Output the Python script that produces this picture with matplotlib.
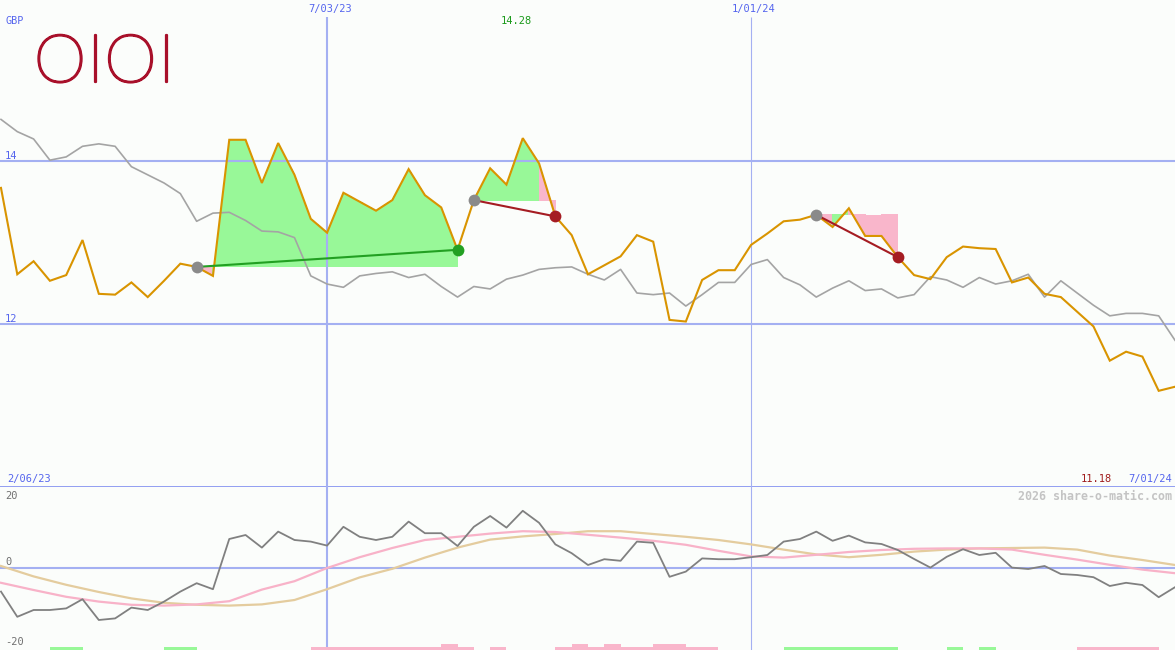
import matplotlib
matplotlib.use("Agg")
import matplotlib.pyplot as plt
import matplotlib.patheffects as pe

# ---------------- data ----------------
price = [13.67, 12.61, 12.77, 12.53, 12.60, 13.03, 12.37, 12.36, 12.51, 12.33,
         12.53, 12.74, 12.70, 12.59, 14.26, 14.26, 13.73, 14.22, 13.83, 13.29,
         13.12, 13.61, 13.50, 13.39, 13.52, 13.90, 13.58, 13.43, 12.91, 13.52,
         13.91, 13.71, 14.28, 13.97, 13.32, 13.09, 12.61, 12.72, 12.83, 13.09,
         13.01, 12.05, 12.03, 12.54, 12.66, 12.66, 12.97, 13.11, 13.26, 13.28,
         13.34, 13.19, 13.42, 13.08, 13.08, 12.82, 12.60, 12.55, 12.82, 12.95,
         12.93, 12.92, 12.51, 12.57, 12.37, 12.33, 12.15, 11.97, 11.55, 11.66,
         11.60, 11.18, 11.23]

index_line = [14.51, 14.36, 14.27, 14.01, 14.05, 14.18, 14.21, 14.18, 13.93, 13.83,
              13.73, 13.60, 13.26, 13.36, 13.37, 13.27, 13.14, 13.13, 13.06, 12.59,
              12.49, 12.45, 12.59, 12.62, 12.64, 12.57, 12.61, 12.46, 12.33, 12.46,
              12.43, 12.55, 12.60, 12.67, 12.69, 12.70, 12.61, 12.54, 12.67, 12.38,
              12.36, 12.38, 12.22, 12.36, 12.51, 12.51, 12.73, 12.79, 12.57, 12.48,
              12.33, 12.44, 12.53, 12.41, 12.43, 12.32, 12.36, 12.58, 12.54, 12.45,
              12.57, 12.49, 12.53, 12.61, 12.33, 12.53, 12.38, 12.23, 12.10, 12.13,
              12.13, 12.10, 11.80]

momentum = [-5.9, -12.2, -10.5, -10.5, -10.1, -7.8, -13.0, -12.6, -9.9, -10.5,
            -8.4, -5.9, -3.8, -5.3, 7.25, 8.25, 5.1, 9.1, 7.0, 6.6,
            5.6, 10.3, 7.8, 7.0, 7.8, 11.6, 8.7, 8.7, 5.5, 10.3,
            13.0, 10.1, 14.3, 11.3, 5.9, 3.7, 0.75, 2.2, 1.8, 6.6,
            6.3, -2.2, -0.9, 2.4, 2.2, 2.2, 2.7, 3.25, 6.6, 7.25,
            9.1, 6.8, 8.1, 6.4, 6.0, 4.5, 2.25, 0.1, 2.8, 4.7,
            3.25, 3.8, 0.1, -0.25, 0.5, -1.5, -1.75, -2.3, -4.5, -3.7,
            -4.25, -7.3, -4.8]

smooth_idx = list(range(0, 73, 2))
smooth_fast = [-3.7, -5.5, -7.2, -8.4, -9.2, -9.4, -9.1, -8.3, -5.4, -3.3,
               0.0, 2.7, 5.0, 7.0, 7.8, 8.6, 9.2, 9.0, 8.3, 7.6,
               6.8, 5.8, 4.3, 2.9, 2.6, 3.3, 4.0, 4.5, 4.8, 4.9,
               4.9, 4.6, 3.3, 2.1, 0.8, -0.4, -1.3]
smooth_slow = [0.5, -2.1, -4.2, -6.0, -7.6, -8.7, -9.2, -9.4, -9.1, -8.0,
               -5.3, -2.35, -0.2, 2.6, 5.1, 7.1, 7.9, 8.5, 9.2, 9.2,
               8.5, 7.8, 7.0, 5.9, 4.6, 3.4, 2.7, 3.3, 4.1, 4.6,
               4.9, 5.0, 5.1, 4.6, 3.1, 2.0, 0.75]

trade_entry = [12, 29, 50]
trade_exit = [28, 34, 55]

signal_start = [3, 10, 48, 58, 60, 19, 30, 34, 66, 27, 35, 37, 40]
signal_end = [5, 12, 55, 59, 61, 29, 31, 44, 71, 28, 36, 38, 42]
signal_kind = ["buy", "buy", "buy", "buy", "buy",
               "sell", "sell", "sell", "sell",
               "strong", "strong", "strong", "strong"]

date_labels = ["7/03/23", "1/01/24"]
date_idx = [20, 46]
price_ticks = [14, 12]
osc_ticks = [20, 0, -20]
logo_letters = ["O", "I", "O", "I"]

# ---------------- style ----------------
BG = "#fbfdfb"
GRID = "#a4b0f2"
SEP = "#7282ee"
TXT_BLUE = "#5565ee"
LOGO = "#a8102a"
MONO = "DejaVu Sans Mono"
W, H = 1175, 650
xl = (-0.06, 72.0)

fig = plt.figure(figsize=(W / 100, H / 100), dpi=100, facecolor=BG)
ax = fig.add_axes([0, 163 / H, 1, 487 / H])
ax2 = fig.add_axes([0, 0, 1, 163 / H])
for a in (ax, ax2):
    a.set_facecolor(BG)
    a.set_axis_off()
    a.set_xlim(*xl)
ax.set_ylim(10.0, 15.975)
ax2.set_ylim(-20.5, 20.25)


def fpx(x, y):
    return x / W, 1 - y / H


# grid lines
for t in price_ticks:
    ax.axhline(t, color=GRID, lw=1.5, zorder=2)
ax.axhline(10.0, color=SEP, lw=1.8, zorder=2)
ax.vlines(date_idx[0], 10.0, 15.77, color=GRID, lw=1.5, zorder=2)
ax.vlines(date_idx[1], 10.0, 15.77, color=GRID, lw=0.8, zorder=2)
ax2.axhline(0, color=GRID, lw=1.5, zorder=2)
ax2.axvline(date_idx[0], color=GRID, lw=1.5, zorder=2)
ax2.axvline(date_idx[1], color=GRID, lw=0.8, zorder=2)

# trade fills
for e, x in zip(trade_entry, trade_exit):
    lvl = price[e]
    for i in range(e, x):
        col = "#98f898" if price[i + 1] >= lvl else "#f9b6cb"
        ax.fill([i, i + 1, i + 1, i], [price[i], price[i + 1], lvl, lvl],
                color=col, lw=0, zorder=1, antialiased=False)

xs = list(range(len(price)))
ax.plot(xs, index_line, color="#a4a4a4", lw=1.2, zorder=3)
ax.plot(xs, price, color="#d99400", lw=1.5, zorder=4, solid_joinstyle="miter")

for e, x in zip(trade_entry, trade_exit):
    win = price[x] >= price[e]
    col = "#22a022" if win else "#a51c22"
    ax.plot([e, x], [price[e], price[x]], color=col, lw=1.5, zorder=5)
    ax.plot([e], [price[e]], "o", color="#8a8a8a", ms=8.5, zorder=6, mec="none")
    ax.plot([x], [price[x]], "o", color=col, ms=8.5, zorder=6, mec="none")

# oscillator panel
ax2.plot(smooth_idx, smooth_slow, color="#e4cc9e", lw=1.6, zorder=3)
ax2.plot(smooth_idx, smooth_fast, color="#f8b2c8", lw=1.6, zorder=3)
ax2.plot(xs, momentum, color="#808080", lw=1.3, zorder=4)

kind_col = {"buy": "#98f898", "sell": "#f9b6cb", "strong": "#f9b6cb"}
kind_h = {"buy": 0.75, "sell": 0.75, "strong": 1.5}
for s, e, k in zip(signal_start, signal_end, signal_kind):
    ax2.bar(s, kind_h[k], width=e - s, bottom=-20.5, align="edge",
            color=kind_col[k], lw=0, zorder=2)

# texts
fig.text(*fpx(5, 21), "GBP", color=TXT_BLUE, fontsize=7.3, family=MONO, va="center", ha="left")
for t, yy in zip(price_ticks, [156, 319]):
    fig.text(*fpx(5, yy), str(t), color=TXT_BLUE, fontsize=7.5, family=MONO, va="center", ha="left")
for lab, xpix in zip(date_labels, [330, 754]):
    fig.text(*fpx(xpix, 9), lab, color=TXT_BLUE, fontsize=7.5, family=MONO, va="center", ha="center")
fig.text(*fpx(516, 21), "%.2f" % max(price), color="#1a9a1a", fontsize=7.5, family=MONO, va="center", ha="center")
fig.text(*fpx(7, 479), "2/06/23", color=TXT_BLUE, fontsize=7.5, family=MONO, va="center", ha="left")
fig.text(*fpx(1112, 479), "%.2f" % min(price), color="#a01c1c", fontsize=7.5, family=MONO, va="center", ha="right")
fig.text(*fpx(1172, 479), "7/01/24", color=TXT_BLUE, fontsize=7.5, family=MONO, va="center", ha="right")
fig.text(*fpx(1172, 496), "2026 share-o-matic.com", color="#c4c4c4", fontsize=8.4,
         family=MONO, weight="bold", va="center", ha="right")
for t, yy in zip(osc_ticks, [496, 562, 642]):
    fig.text(*fpx(5, yy), str(t), color="#707070", fontsize=7.5, family=MONO, va="center", ha="left")

# logo letters
thick = [pe.Stroke(linewidth=1.6, foreground=LOGO), pe.Normal()]
for ch, xc in zip(logo_letters, [60, 95.5, 130.5, 166.5]):
    fig.text(*fpx(xc, 82), ch, color=LOGO, fontsize=48, family="Lato",
             weight="light", va="baseline", ha="center", path_effects=thick)

fig.savefig("out.png", dpi=100, facecolor=BG)
